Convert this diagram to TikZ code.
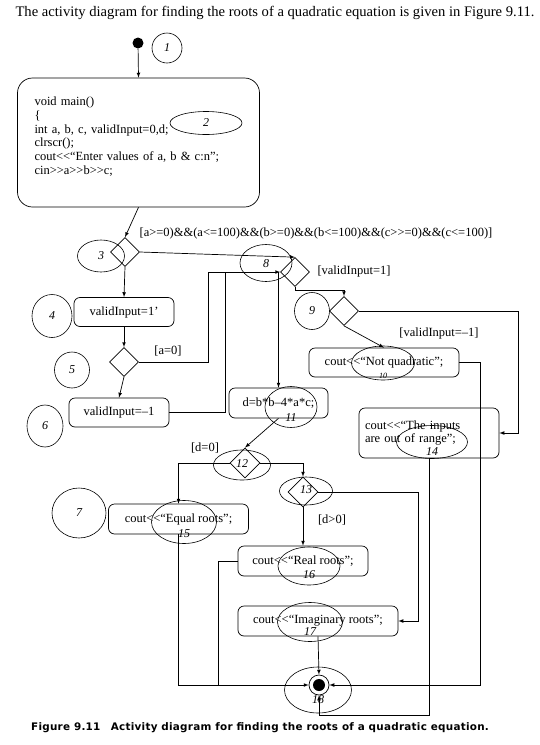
\documentclass[tikz,border=0pt]{standalone}
\usepackage{fontspec}
\setmainfont{Liberation Serif}
\newfontfamily\capfont{DejaVu Sans}[LetterSpace=2.5]
\usetikzlibrary{shapes.geometric}
\newcommand\lowr[2]{\smash{\raisebox{-#1}{#2}}}
\begin{document}
\begin{tikzpicture}[x=1pt,y=-1pt,>=latex,line width=0.7pt,
    actbox/.style={draw,rounded corners=6pt,minimum height=29pt,inner sep=2pt,font=\fontsize{12.5}{13.8}\selectfont},
    decision/.style={draw,diamond,aspect=1,minimum width=29pt,minimum height=29pt,inner sep=0pt},
    guard/.style={font=\fontsize{12.5}{14}\selectfont},
    scrawl/.style 2 args={draw,ellipse,line width=0.6pt,minimum width=#1,minimum height=#2,inner sep=0pt,font=\fontsize{12}{12}\selectfont\itshape},
    endnode/.style={circle,draw,minimum size=20pt,inner sep=0pt,path picture={\fill (path picture bounding box.center) circle (6pt);}}]
\useasboundingbox (0,0) rectangle (540,745);
\node[font=\fontsize{14.6}{17}\selectfont] (title) at (275,13) {The activity diagram for finding the roots of a quadratic equation is given in Figure 9.11.};
% start and first activity
\node[circle,fill,minimum size=11pt,inner sep=0pt] (start) at (138,43) {};
\node[draw,rounded corners=15pt,minimum width=242pt,minimum height=129pt,text width=208pt,inner xsep=17pt,align=left,font=\fontsize{12.5}{13.8}\selectfont] (main) at (138.5,142.5)
    {void main()\\ \{\\ int a, b, c, validInput=0,d;\\ clrscr();\\ cout<{}<“Enter values of a, b \& c:n”;\\ cin>{}>a>{}>b>{}>c;\\ ~};
\draw[->] (start) -- (main.north);
% input checks
\node[decision] (d3) at (125,252) {};
\node[actbox,minimum width=100pt] (valid1) at (124,312) {validInput=1’};
\node[decision] (d5) at (124,362) {};
\node[actbox,minimum width=100pt] (valid0) at (119,412.5) {validInput=–1};
\node[decision] (d8) at (295,272) {};
\node[decision] (d9) at (344,311) {};
\node[actbox,minimum width=150pt] (notq) at (384,362.5) {cout<{}<“Not quadratic”;};
\node[actbox,minimum width=140pt,minimum height=50pt,text width=128pt,inner xsep=6pt,align=left] (range) at (429,433) {cout<{}<“The inputs\\ are out of range”;};
\node[actbox,minimum width=99pt,minimum height=30pt] (disc) at (278.5,403) {d=b*b–4*a*c;};
% roots
\node[decision,minimum width=30pt,minimum height=30pt] (d12) at (245,463) {};
\node[decision,minimum width=30pt,minimum height=30pt] (d13) at (303,492) {};
\node[actbox,minimum width=140pt,minimum height=30pt] (equal) at (178.5,519) {cout<{}<“Equal roots”;};
\node[actbox,minimum width=130pt,minimum height=30pt] (real) at (303,561) {cout<{}<“Real roots”;};
\node[actbox,minimum width=160pt,minimum height=30pt] (imag) at (318,621) {cout<{}<“Imaginary roots”;};
\node[endnode] (fin) at (319,685) {};
% guards
\node[guard] (g1) at (316,233) {[a>=0)\&\&(a<=100)\&\&(b>=0)\&\&(b<=100)\&\&(c>{}>=0)\&\&(c<=100)]};
\node[guard] (g2) at (168,351) {[a=0]};
\node[guard] (g3) at (354,271) {[validInput=1]};
\node[guard] (g4) at (439,333) {[validInput=–1]};
\node[guard] (g5) at (205,448) {[d=0]};
\node[guard] (g6) at (332,520) {[d>0]};
% flows
\draw[->] (main.south) -- (d3.north);
\draw[->] (d3.east) -- (d8.north);
\draw[->] (d3.south) -- (valid1.north);
\draw[->] (valid1.south) -- (d5.north);
\draw[->] (d5.south) -- (valid0.north);
\draw[->] (d5.east) -- (208,362) -- (208,272) -- (d8.west);
\draw (valid0.east) -- (225,412.5) -- (225,272);
\draw[->] (disc.north |- d8.west) -- (disc.north);
\draw[->] (d8.south) -- ++(0,3) -| (d9.north);
\draw[->] (d9.east) -- ++(159,0) |- (range.east);
\draw[->] (d9.south) -- (notq.north);
\draw[->] (disc.south) -- (d12.north);
\draw[->] (d12.west) -| (equal.north);
\draw[->] (d12.east) -| (d13.north);
\draw[->] (d13.south) -- (real.north);
\draw[->] (d13.east) -- ++(100,0) |- (imag.east);
\draw[->] (imag.south) -- (fin.north);
\draw[->] (equal.south) |- (fin.west);
\draw (real.west) -- ++(-19,0) coordinate (rj) -- (rj |- fin.west);
\draw[->] (notq.east) -- ++(21,0) |- (fin.east);
\draw[->] (range.south) -- ++(0,257) -| (fin.south);
% handwritten marks
\node[scrawl={30pt}{30pt}] (n1) at (167,48) {\large 1};
\node[scrawl={72pt}{23pt}] (n2) at (206,123) {\large 2};
\node[scrawl={47pt}{32pt}] (n3) at (101,256) {\large 3};
\node[scrawl={40pt}{43pt}] (n4) at (52,316) {\large 4};
\node[scrawl={35pt}{36pt}] (n5) at (72,370) {\large 5};
\node[scrawl={36pt}{42pt}] (n6) at (45,426) {\large 6};
\node[scrawl={54pt}{50pt}] (n7) at (79,513) {\large 7};
\node[scrawl={52pt}{37pt}] (n8) at (266,263) {\lowr{4pt}{8}};
\node[scrawl={35pt}{37pt}] (n9) at (312,311) {\large 9};
\node[scrawl={63pt}{34pt}] (n10) at (383,363) {\lowr{15pt}{\makebox[0pt]{\footnotesize 10}}};
\node[scrawl={52pt}{41pt}] (n11) at (291,407) {\lowr{14pt}{11}};
\node[scrawl={57pt}{30pt}] (n12) at (242,465) {\lowr{2pt}{12}};
\node[scrawl={53pt}{28pt}] (n13) at (306,491) {\lowr{2pt}{13}};
\node[scrawl={71pt}{33pt}] (n14) at (432,442) {\lowr{13pt}{14}};
\node[scrawl={65pt}{43pt}] (n15) at (184,522) {\lowr{15pt}{15}};
\node[scrawl={62pt}{38pt}] (n16) at (309,566) {\lowr{12pt}{16}};
\node[scrawl={65pt}{39pt}] (n17) at (310,622) {\lowr{13pt}{17}};
\node[scrawl={67pt}{46pt}] (n18) at (318,690) {\lowr{13pt}{18}};
% caption
\node[font=\capfont\bfseries\fontsize{10.4}{12}\selectfont] (cap) at (260,728) {Figure 9.11\quad Activity diagram for finding the roots of a quadratic equation.};
\end{tikzpicture}
\end{document}
